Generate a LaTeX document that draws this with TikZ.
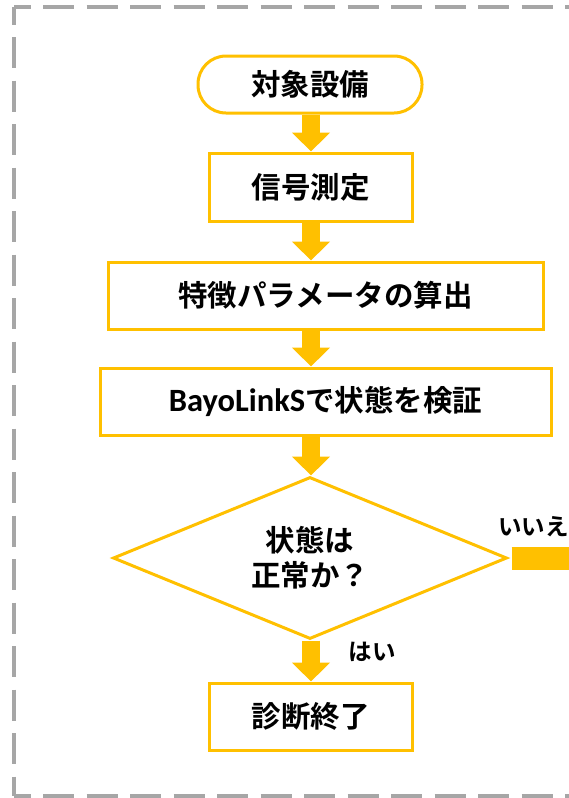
\documentclass[tikz,border=0pt]{standalone}
\usepackage{fontspec}
\setmainfont{Noto Sans CJK JP}[BoldFont={* Bold}]
\newfontfamily\latfont{Carlito}
\usetikzlibrary{shapes.geometric,arrows.meta}
\definecolor{amber}{HTML}{FFC000}
\definecolor{bordergray}{HTML}{A6A6A6}
\begin{document}
\begin{tikzpicture}[x=1pt,y=-1pt,
  box/.style={draw=amber,line width=3pt,fill=white,inner sep=0pt,font=\fontsize{29.5}{35}\selectfont\bfseries},
  flow/.style={amber,line width=18pt,-{Triangle[width=37pt,length=19pt]}},
  lbl/.style={font=\fontsize{23.5}{26}\selectfont\bfseries,inner sep=0pt},
  frame/.style={bordergray,line width=4pt,dash pattern=on 31pt off 12.5pt}]
\useasboundingbox (0,0) rectangle (569,798);
\draw[frame,dash phase=14.5pt] (14,7) -- (620,7);
\draw[frame,dash phase=13.5pt] (14,7) -- (14,796);
\draw[frame,dash phase=14.5pt] (14,796) -- (620,796);
\coordinate (ax) at (311,0);
\node[box,rounded corners=28pt,minimum width=224pt,minimum height=57pt] (start) at (310,84.5) {対象設備};
\node[box,minimum width=203pt,minimum height=68pt] (b1) at (310.5,187) {信号測定};
\node[box,minimum width=435pt,minimum height=67pt] (b2) at (325.5,295.5) {特徴パラメータの算出};
\node[box,minimum width=451pt,minimum height=67pt] (b3) at (325.5,401.5) {{\latfont\fontsize{32.5}{35}\selectfont BayoLinkS}で状態を検証};
\node[box,shape=diamond,shape aspect=2.43,minimum width=394pt,minimum height=162pt,align=center] (dia) at (310,558) {状態は\\正常か？};
\node[box,minimum width=203pt,minimum height=67pt] (b5) at (310.5,716.5) {診断終了};
\coordinate (exit) at (600,558);
\draw[flow] (ax |- start.south) -- (ax |- b1.north);
\draw[flow] (ax |- b1.south) -- (ax |- b2.north);
\draw[flow] (ax |- b2.south) -- (ax |- b3.north);
\draw[flow] (ax |- b3.south) -- (ax |- dia.north);
\draw[flow] (ax |- dia.south) -- (ax |- b5.north);
\draw[amber,line width=23pt,shorten <=3pt] (dia.east) -- (exit);
\node[lbl,anchor=west] (no) at (498,527) {いいえ};
\node[lbl] (yes) at (372,652) {はい};
\end{tikzpicture}
\end{document}
